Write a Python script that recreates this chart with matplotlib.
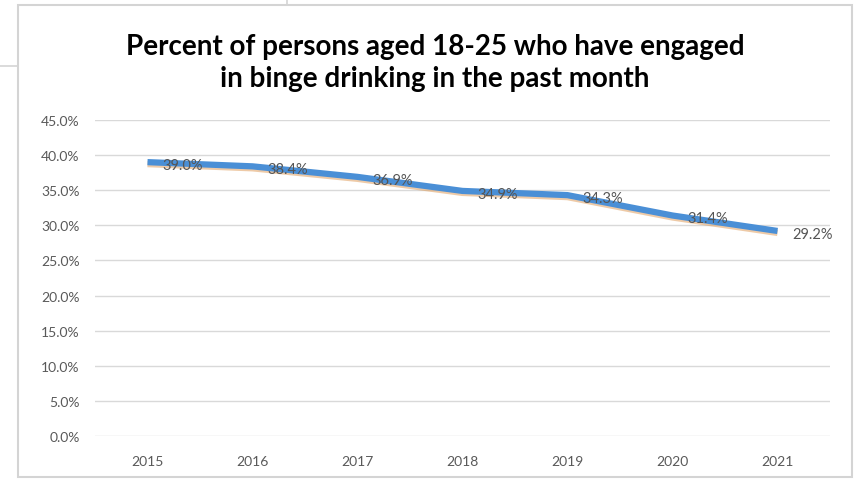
import matplotlib.pyplot as plt
from matplotlib.patches import Rectangle
from matplotlib.lines import Line2D
from matplotlib.transforms import ScaledTranslation

plt.rcParams['font.family'] = ['Lato', 'DejaVu Sans']

# data
years = ["2015", "2016", "2017", "2018", "2019", "2020", "2021"]
binge_pct = [39.0, 38.4, 36.9, 34.9, 34.3, 31.4, 29.2]
y_ticks = [0, 5, 10, 15, 20, 25, 30, 35, 40, 45]

W, H = 859, 481


def px(x, y):
    # pixel coords (from top-left) to figure fraction
    return x / W, 1 - y / H


fig = plt.figure(figsize=(W / 100, H / 100), dpi=100)

# chart frame plus a couple of stray edges from the screenshot
fig.patches.append(Rectangle(px(18, 478), 834 / W, 472 / H, transform=fig.transFigure,
                             fill=False, edgecolor="#d4d4d4", lw=1.5))
fig.lines.append(Line2D([0, 18 / W], [1 - 67 / H] * 2, transform=fig.transFigure,
                        color="#d4d4d4", lw=1.2))
fig.lines.append(Line2D([287 / W] * 2, [1, 1 - 6 / H], transform=fig.transFigure,
                        color="#d4d4d4", lw=1.2))

left, top = px(95, 121)
right, bottom = px(830, 437)
ax = fig.add_axes([left, bottom, right - left, top - bottom])

x = list(range(len(years)))
# soft orange shadow under the line, like the Excel style
shadow = ax.transData + ScaledTranslation(0, -2 / 100, fig.dpi_scale_trans)
ax.plot(x, binge_pct, color="#e0a060", lw=4.5, alpha=0.55, solid_capstyle="butt",
        transform=shadow)
ax.plot(x, binge_pct, color="#4a8fd6", lw=4.5, solid_capstyle="butt")

for xi, v in zip(x, binge_pct):
    ax.annotate(f"{v:.1f}%", (xi, v), xytext=(11, -2), textcoords="offset points",
                ha="left", va="center", fontsize=10.5, color="#555555")

ax.set_xlim(-0.5, len(years) - 0.5)
ax.set_ylim(0, 45)
ax.set_yticks(y_ticks)
ax.set_yticklabels([f"{t:.1f}%" for t in y_ticks])
ax.set_xticks(x)
ax.set_xticklabels(years)
ax.grid(axis="y", color="#d9d9d9", lw=1)
ax.set_axisbelow(True)
for s in ax.spines.values():
    s.set_visible(False)
ax.tick_params(length=0, labelsize=10, labelcolor="#595959")
ax.tick_params(axis="x", pad=14)
ax.tick_params(axis="y", pad=11)

fig.text(435 / W, 1 - 63 / H,
         "Percent of persons aged 18-25 who have engaged\nin binge drinking in the past month",
         ha="center", va="center", fontsize=20, fontweight="bold", color="#000000",
         linespacing=1.3)

fig.savefig("out.png", dpi=100)
